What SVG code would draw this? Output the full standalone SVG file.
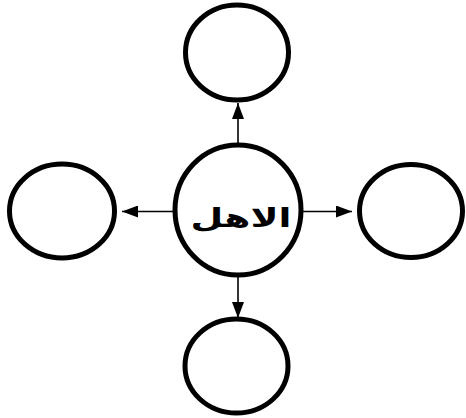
<svg xmlns="http://www.w3.org/2000/svg" width="466" height="418" viewBox="0 0 466 418">
<style>
.node{fill:#fff;stroke:#000;stroke-width:5}
.edge{stroke:#000;stroke-width:1.6;fill:none;marker-end:url(#arr)}
.lbl{font-family:"DejaVu Sans",sans-serif;font-weight:bold;font-size:26px;fill:#000;text-anchor:middle}
</style>
<defs>
<marker id="arr" viewBox="0 0 16 12" refX="16" refY="6" markerWidth="16" markerHeight="12" markerUnits="userSpaceOnUse" orient="auto">
<path d="M0,0 L16,6 L0,12 Z" fill="#000"/>
</marker>
</defs>
<g id="connectors">
<line class="edge" x1="238" y1="146" x2="238" y2="103"/>
<line class="edge" x1="174" y1="211.5" x2="122" y2="211.5"/>
<line class="edge" x1="302" y1="211.5" x2="352" y2="211.5"/>
<line class="edge" x1="238" y1="272" x2="238" y2="318"/>
</g>
<g id="node-center">
<ellipse class="node" cx="238" cy="210" rx="63" ry="65"/>
<text class="lbl" transform="translate(241,227) scale(1.45,1)" x="0" y="0" direction="rtl">الاهل</text>
</g>
<g id="node-top"><ellipse class="node" cx="237" cy="52.5" rx="51.5" ry="47.5"/></g>
<g id="node-left"><ellipse class="node" cx="62" cy="211" rx="52.5" ry="47"/></g>
<g id="node-right"><ellipse class="node" cx="411" cy="211" rx="51.5" ry="46.5"/></g>
<g id="node-bottom"><ellipse class="node" cx="236.5" cy="366" rx="51.5" ry="47"/></g>
</svg>
